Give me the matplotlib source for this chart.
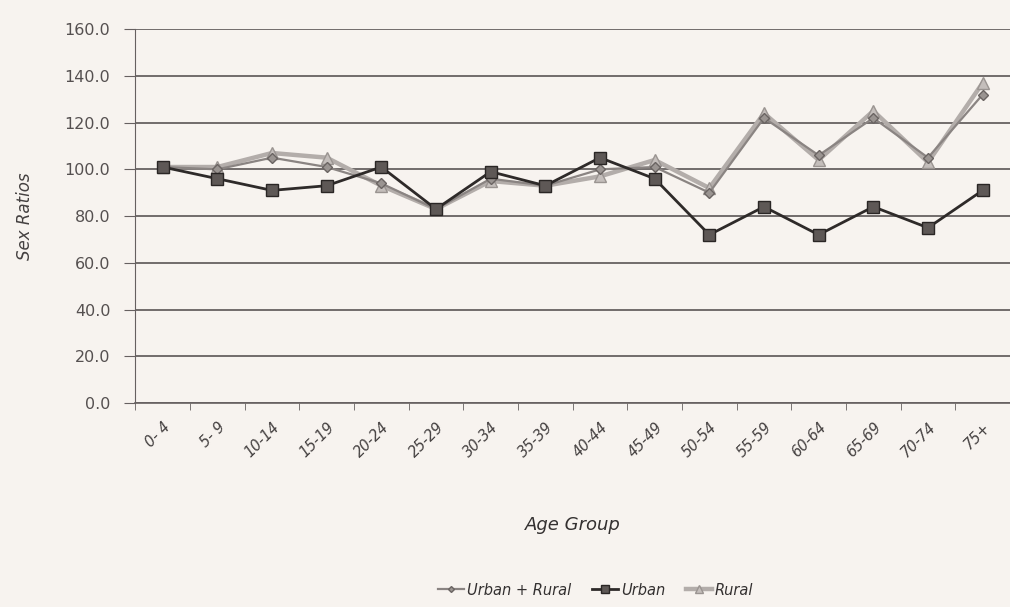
import matplotlib.pyplot as plt
import numpy as np

age_groups = ['0- 4', '5- 9', '10-14', '15-19', '20-24', '25-29', '30-34', '35-39',
              '40-44', '45-49', '50-54', '55-59', '60-64', '65-69', '70-74', '75+']
urban_rural = [101, 100, 105, 101, 94, 83, 96, 93, 100, 101, 90, 122, 106, 122, 105, 132]
urban = [101, 96, 91, 93, 101, 83, 99, 93, 105, 96, 72, 84, 72, 84, 75, 91]
rural = [101, 101, 107, 105, 93, 83, 95, 93, 97, 104, 92, 124, 104, 125, 103, 137]

bg = '#f7f3ef'
fig = plt.figure(figsize=(10.1, 6.07), dpi=100, facecolor=bg)
ax = fig.add_axes([0.134, 0.336, 0.866, 0.616], facecolor=bg)

x = np.arange(len(age_groups))

ax.plot(x, rural, color='#b3adaa', lw=3.2, marker='^', ms=9,
        markerfacecolor='#c4bebb', markeredgecolor='#9a9491', label='Rural', zorder=3)
ax.plot(x, urban_rural, color='#8a8482', lw=1.6, marker='D', ms=5,
        markerfacecolor='#9a9491', markeredgecolor='#6a6462', label='Urban + Rural', zorder=4)
ax.plot(x, urban, color='#2e2a29', lw=2.0, marker='s', ms=9,
        markerfacecolor='#5e5856', markeredgecolor='#2a2625', label='Urban', zorder=5)

ax.set_xlim(-0.5, len(age_groups) - 0.5)
ax.set_ylim(0, 160)
ax.set_yticks(np.arange(0, 161, 20))
ax.set_yticklabels([f'{v:.1f}' for v in np.arange(0, 161, 20)], color='#555050', fontsize=11.5)
ax.yaxis.grid(True, color='#5a5555', lw=1.2)
ax.set_axisbelow(True)

ax.set_xticks(x)
ax.set_xticklabels(age_groups, rotation=45, ha='right', rotation_mode='anchor',
                   fontsize=10.5, style='italic', color='#444040')
ax.tick_params(axis='x', length=0, pad=12)
ax.set_xticks(np.arange(-0.5, len(age_groups), 1), minor=True)
ax.tick_params(axis='x', which='minor', length=5, color='#666060')
ax.tick_params(axis='y', length=8, color='#666060', pad=10)

for s in ['top', 'right']:
    ax.spines[s].set_visible(False)
ax.spines['left'].set_color('#666060')
ax.spines['bottom'].set_color('#666060')
ax.spines['bottom'].set_linewidth(1.2)

ax.set_ylabel('Sex Ratios', fontsize=12, style='italic', color='#444040', labelpad=22)
ax.set_xlabel('Age Group', fontsize=13, style='italic', color='#333030', labelpad=40)

handles, labels = ax.get_legend_handles_labels()
order = [1, 2, 0]
fig.legend([handles[i] for i in order], [labels[i] for i in order],
           loc='center', bbox_to_anchor=(0.59, 0.028), ncol=3, frameon=False,
           prop={'style': 'italic', 'size': 10.5}, handlelength=1.8, columnspacing=1.4,
           handletextpad=0.2, markerscale=0.6, labelcolor='#333030')

fig.savefig('out.png', dpi=100, facecolor=bg)
